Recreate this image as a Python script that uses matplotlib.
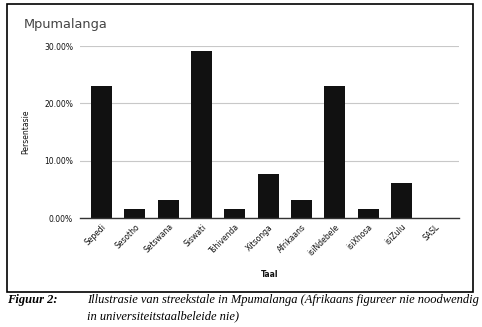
import matplotlib.pyplot as plt
from matplotlib.patches import Rectangle
from matplotlib.ticker import PercentFormatter

# taal data (persentasie)
tale = ['Sepedi', 'Sesotho', 'Setswana', 'Siswati', 'Tshivenda', 'Xitsonga',
        'Afrikaans', 'isiNdebele', 'isiXhosa', 'isiZulu', 'SASL']
persentasie = [23.08, 1.54, 3.08, 29.23, 1.54, 7.69, 3.08, 23.08, 1.54, 6.15, 0.0]
yticks = [0, 10, 20, 30]

fig = plt.figure(figsize=(4.82, 3.27), dpi=100)
fig.patch.set_facecolor('white')

# raam om die grafiek
fig.patches.append(Rectangle((0.0145, 0.107), 0.967, 0.881, transform=fig.transFigure,
                             fill=False, edgecolor='black', linewidth=1.2))

ax = fig.add_axes([0.166, 0.333, 0.786, 0.526])
x = range(len(tale))
ax.bar(x, persentasie, width=0.63, color='#111111', zorder=3)
ax.set_xlim(-0.65, 10.72)
ax.set_ylim(0, 30)
ax.set_yticks(yticks)
ax.yaxis.set_major_formatter(PercentFormatter(decimals=2))
ax.grid(axis='y', color='#c8c8c8', linewidth=0.8, zorder=0)
for s in ['top', 'right', 'left']:
    ax.spines[s].set_visible(False)
ax.spines['bottom'].set_color('#333333')
ax.spines['bottom'].set_linewidth(1.0)
ax.spines['bottom'].set_zorder(4)
ax.tick_params(axis='both', length=0, labelsize=5.5, colors='#111111')
ax.tick_params(axis='y', pad=5)
ax.set_xticks(list(x))
ax.set_xticklabels(tale, rotation=45, ha='right', rotation_mode='anchor')
ax.tick_params(axis='x', pad=3)

ax.set_ylabel('Persentasie', fontsize=5.5, color='#111111', labelpad=10)
ax.set_xlabel('Taal', fontsize=5.5, color='#111111', fontweight='bold', labelpad=9)

fig.text(0.05, 0.925, 'Mpumalanga', fontsize=9.3, color='#444444', va='center')

# onderskrif
fig.text(0.0145, 0.082, 'Figuur 2:', family='Liberation Serif', style='italic',
         fontweight='bold', fontsize=9, va='center')
fig.text(0.18, 0.082, 'Illustrasie van streekstale in Mpumalanga (Afrikaans figureer nie noodwendig',
         family='Liberation Serif', style='italic', fontsize=9, va='center')
fig.text(0.18, 0.033, 'in universiteitstaalbeleide nie)',
         family='Liberation Serif', style='italic', fontsize=9, va='center')

fig.savefig('out.png', dpi=100)
